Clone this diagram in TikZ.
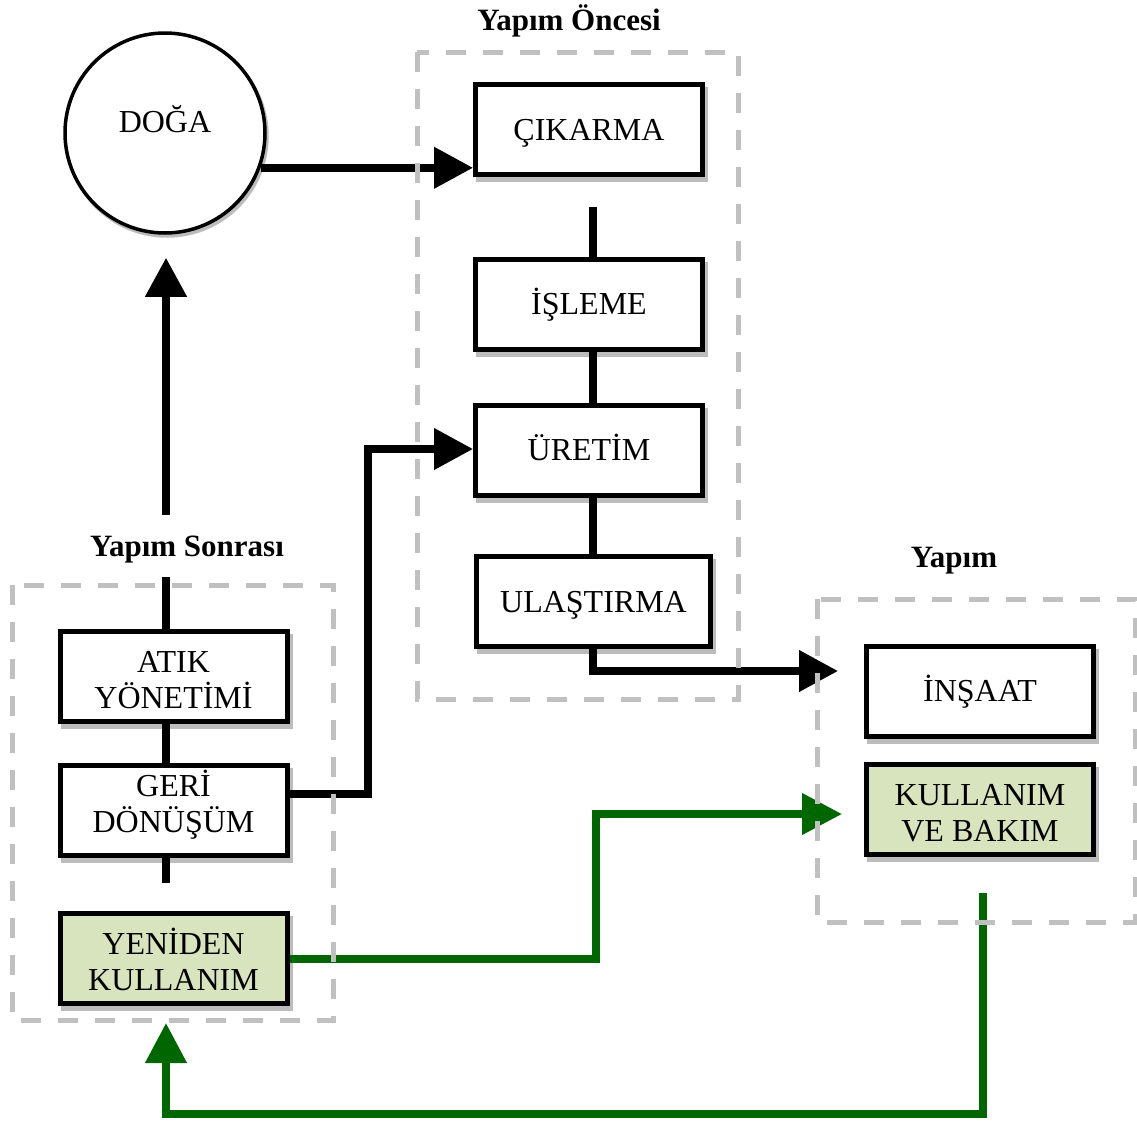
\documentclass[tikz,border=0pt]{standalone}
\usepackage{fontspec}
\setmainfont{Liberation Serif}
\usetikzlibrary{arrows.meta,shadows}
\definecolor{gr}{RGB}{0,102,0}
\definecolor{lg}{RGB}{215,228,189}
\definecolor{dg}{RGB}{192,192,192}
\definecolor{sh}{RGB}{188,188,188}
\begin{document}
\begin{tikzpicture}[x=1pt,y=-1pt,
 box/.style={draw=black, line width=5pt, fill=white, minimum width=227pt, minimum height=90pt,
   inner sep=0pt, align=center, font=\fontsize{32}{36}\selectfont,
   drop shadow={shadow xshift=3pt, shadow yshift=-5pt, fill=sh, draw=sh, line width=5pt, opacity=1}},
 one/.style={text height=21pt, text depth=0pt},
 two/.style={text height=#1, text depth=0pt},
 two/.default=63pt,
 gbox/.style={box, fill=lg},
 arr/.style={line width=7.5pt, -{Triangle[length=39pt,width=40pt]}},
 ln/.style={line width=7.5pt},
 garr/.style={line width=7.5pt, draw=gr, -{Triangle[length=40pt,width=40pt]}},
 grp/.style={draw=dg, line width=5pt, dash pattern=on 20pt off 17pt},
 ttl/.style={font=\fontsize{31}{36}\selectfont\bfseries, inner sep=0pt, text height=21pt, text depth=0pt},
 lbl/.style={font=\fontsize{32}{36}\selectfont, inner sep=0pt, text height=21pt, text depth=0pt}]
\useasboundingbox (0,0) rectangle (1137,1122);

% circle
\node[circle, draw=black, line width=3.5pt, fill=white, minimum size=200pt, inner sep=0pt,
  drop shadow={shadow xshift=2pt, shadow yshift=-3pt, fill=sh, draw=sh, line width=3.5pt, opacity=1}] (doga) at (165,133) {};
\node[lbl] (dogat) at (165,122) {DOĞA};

% boxes
\node[box,one] (cik) at (589,129.5) {ÇIKARMA};
\node[box,one] (isl) at (589,304) {İŞLEME};
\node[box,one] (ure) at (589,450) {ÜRETİM};
\node[box,one,minimum width=234pt] (ula) at (593.5,601.5) {ULAŞTIRMA};
\node[box,one] (ins) at (980,691) {İNŞAAT};
\node[gbox,two] (kul) at (980,809.5) {KULLANIM\\VE BAKIM};
\node[box,two] (atik) at (173.5,676.5) {ATIK\\YÖNETİMİ};
\node[box,two=44pt] (geri) at (173.5,810) {GERİ\\DÖNÜŞÜM};
\node[gbox,two] (yen) at (173.5,958.5) {YENİDEN\\KULLANIM};

% titles
\node[ttl] (t1) at (569,20) {Yapım Öncesi};
\node[ttl] (t2) at (187,546) {Yapım Sonrası};
\node[ttl] (t3) at (954,557) {Yapım};

% black connectors
\draw[arr] (doga.-20.5) -- (doga.-20.5 -| cik.west);
\coordinate (c1) at (593,207);
\draw[ln] (c1) -- (c1 |- isl.north);
\draw[ln] (isl.south -| c1) -- (ure.north -| c1);
\draw[ln] (ure.south -| c1) -- (ula.north -| c1);
\coordinate (e1) at (864,671);
\draw[arr, shorten >=26pt] (ula.south -| c1) |- (e1);

\coordinate (k1) at (368,794);
\coordinate (k2) at (368,449);
\draw[arr] (geri.east |- k1) -- (k1) -- (k2) -- (ure.west |- k2);

\coordinate (u1) at (166,515);
\draw[arr, shorten >=23pt] (u1) -- (u1 |- doga.south);
\coordinate (u2) at (166,577);
\draw[ln] (u2) -- (u2 |- atik.north);
\draw[ln] (atik.south -| u2) -- (geri.north -| u2);
\coordinate (u3) at (166,883);
\draw[ln] (geri.south -| u3) -- (u3);

% green connectors
\coordinate (g1) at (596,959);
\coordinate (g2) at (596,814);
\draw[garr, shorten >=22pt] (yen.east |- g1) -- (g1) -- (g2) -- (kul.west |- g2);
\coordinate (g4) at (983,893);
\coordinate (g5) at (983,1114);
\coordinate (g6) at (166,1114);
\draw[garr, shorten >=17pt] (g4) -- (g5) -- (g6) -- (g6 |- yen.south);

% dashed groups
\draw[grp] (417,52) rectangle (738,699);
\draw[grp] (817,599) rectangle (1135,922);
\draw[grp] (12,585) rectangle (333,1020);
\end{tikzpicture}
\end{document}
